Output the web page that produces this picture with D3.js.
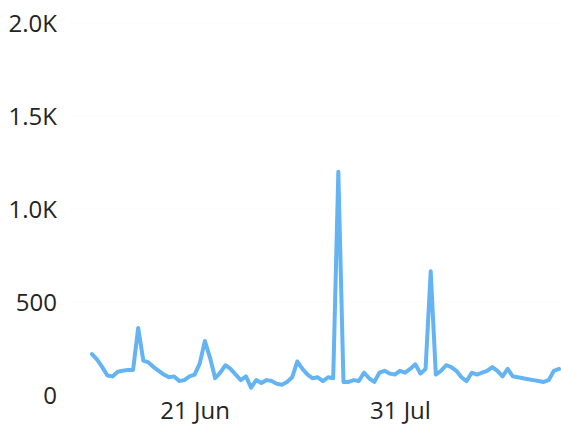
<!DOCTYPE html>
<html>
<head>
<meta charset="utf-8">
<script src="https://cdn.jsdelivr.net/npm/d3@7"></script>
<style>
  html, body { margin: 0; padding: 0; background: #fff; }
  svg { display: block; }
  text { font-family: "Segoe UI", "Open Sans", "Noto Sans", sans-serif; fill: #252423; }
</style>
</head>
<body>
<div id="chart"></div>
<script>
const startDate = "2020-06-01";
const values = [
  220, 190, 150, 105, 100, 125, 130, 135, 135, 360,
  185, 175, 150, 130, 110, 95, 100, 75, 80, 100,
  110, 170, 290, 200, 90, 120, 160, 140, 110, 80,
  100, 40, 80, 65, 80, 75, 60, 55, 70, 95,
  180, 140, 110, 90, 95, 75, 95, 90, 1200, 70,
  70, 80, 75, 120, 90, 70, 120, 130, 115, 110,
  130, 120, 140, 165, 115, 140, 665, 110, 130, 160,
  150, 130, 95, 75, 120, 110, 120, 130, 150, 130,
  100, 140, 100, 95, 90, 85, 80, 75, 70, 80,
  130, 140
];
const xTickDates = ["2020-06-21", "2020-07-31"];
const yTickValues = [0, 500, 1000, 1500, 2000];
const yTickLabels = ["0", "500", "1.0K", "1.5K", "2.0K"];

const W = 561, H = 437;
const parse = d3.utcParse("%Y-%m-%d");
const t0 = parse(startDate);
const data = values.map((v, i) => ({ date: d3.utcDay.offset(t0, i), value: v }));

const svg = d3.select("#chart").append("svg").attr("width", W).attr("height", H);

const x = d3.scaleUtc()
  .domain(d3.extent(data, d => d.date))
  .range([92, 559]);
const y = d3.scaleLinear().domain([0, 2000]).range([395, 23]);

// faint gridlines
svg.append("g").selectAll("line").data(yTickValues.slice(1)).join("line")
  .attr("x1", 70).attr("x2", 559)
  .attr("y1", d => y(d)).attr("y2", d => y(d))
  .attr("stroke", "#f3f3f3").attr("stroke-width", 1)
  .attr("stroke-dasharray", "1,2");

// y axis
const yAxis = d3.axisLeft(y).tickValues(yTickValues)
  .tickFormat((d, i) => yTickLabels[i]).tickSize(0).tickPadding(0);
const gy = svg.append("g").attr("transform", "translate(57,0)").call(yAxis);
gy.select(".domain").remove();
gy.selectAll("text").style("font-size", "24px").attr("dy", "0.34em");

// x axis
const xAxis = d3.axisBottom(x).tickValues(xTickDates.map(parse))
  .tickFormat(d3.utcFormat("%-d %b")).tickSize(0).tickPadding(0);
const gx = svg.append("g").attr("transform", "translate(0,402)").call(xAxis);
gx.select(".domain").remove();
gx.selectAll("text").style("font-size", "24px").attr("dy", "0.71em");

// line
const line = d3.line().x(d => x(d.date)).y(d => y(d.value)).curve(d3.curveLinear);
svg.append("path").datum(data)
  .attr("fill", "none")
  .attr("stroke", "#64b4f4")
  .attr("stroke-width", 4)
  .attr("stroke-linejoin", "round")
  .attr("stroke-linecap", "round")
  .attr("d", line);
</script>
</body>
</html>
